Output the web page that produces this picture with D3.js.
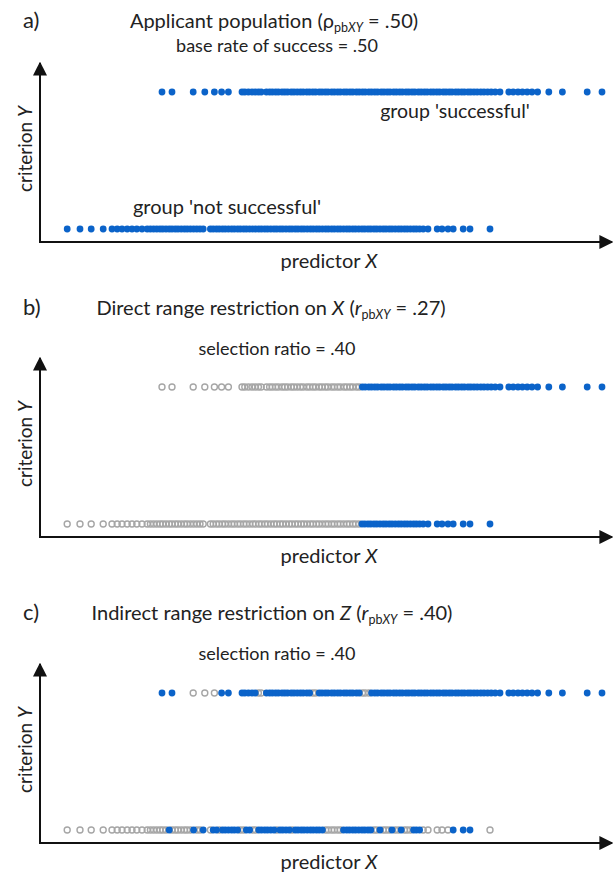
<!DOCTYPE html>
<html>
<head>
<meta charset="utf-8">
<script src="https://cdn.jsdelivr.net/npm/d3@7"></script>
<style>
  body { margin: 0; background: #fff; }
  text { font-family: Lato, "Open Sans", sans-serif; fill: #222; }
</style>
</head>
<body>
<div id="chart"></div>
<script>
// predictor scores of the applicants (group 'successful' / 'not successful')
const successX = [30.5, 33, 38.3, 41.2, 43.6, 45.4, 47.1, 50.5, 51.2, 52.1, 53, 53.8, 54.6, 55.3,
  56.6, 57.4, 58.1, 58.9, 59.6, 60.5, 61.2, 61.9, 62.8, 63.5, 64.3, 65.1, 65.8, 66.7, 67.4, 68.2,
  68.9, 69.8, 70.5, 71.3, 72, 72.9, 73.6, 74.4, 75.1, 76, 76.7, 77.5, 78.2, 79.1, 79.8, 80.6,
  81.3, 82.2, 82.9, 83.7, 84.4, 85.3, 86, 86.8, 87.5, 88.4, 89.1, 89.9, 90.6, 91.5, 92.2, 93,
  93.7, 94.6, 95.3, 96.1, 96.8, 97.7, 98.4, 99.2, 99.9, 100.8, 101.5, 102.3, 103, 103.9, 104.6,
  105.4, 106.1, 107, 107.7, 108.5, 109.3, 110.2, 111, 111.9, 112.8, 113.8, 115,
  117.2, 118.3, 119.5, 120.6, 121.8, 123, 124.4, 127.2, 130.6, 136.8, 140.5]

const failX = [6.8, 10, 12.8, 15.8, 18, 19.3, 20.5, 21.8, 23, 24.2, 25.5, 26.8, 27.6, 28.4, 29.2,
  30, 30.7, 31.5, 32.3, 33, 33.8, 34.5, 35.3, 36.1, 36.8, 37.6, 38.4, 39.2, 40, 40.8,
  42.6, 43.3, 44.1, 44.8, 45.6, 46.3, 47.1, 47.9, 48.6, 49.4, 50.1, 50.9, 51.6, 52.4, 53.2, 53.9,
  54.7, 55.4, 56.2, 56.9, 57.7, 58.5, 59.2, 60, 60.7, 61.5, 62.3, 63, 63.8, 64.5, 65.3, 66, 66.8,
  67.6, 68.3, 69.1, 69.8, 70.6, 71.4, 72.1, 72.9, 73.6, 74.4, 75.1, 75.9, 76.7, 77.4, 78.2, 78.9,
  79.7, 80.5, 81.2, 82, 82.7, 83.5, 84.2, 85, 85.8, 86.5, 87.3, 88, 88.8, 89.6, 90.3, 91.1, 91.8,
  92.6, 93.4, 94.1, 94.9, 95.8, 97, 99.3, 100.5, 102, 103.3, 105.8, 107.5, 112.5]

// direct selection on X: everyone above the cutoff
const cutoffX = 80.5

// indirect selection on Z: predictor ranges of the selected applicants
const zSelectedSuccess = [[30, 34], [45, 48], [50, 54], [56, 67.5], [69.5, 80.5], [82.5, 143]]
const zSelectedFail = [[32, 32.5], [37.8, 38.5], [40.5, 41], [43, 44.5], [45.5, 49.5], [51.5, 52.5],
  [54, 58.5], [59.8, 62.5], [63.5, 70.7], [75.5, 83.3], [84.8, 85.2], [87.8, 88.2], [90.2, 90.5],
  [93, 95], [103, 104], [105, 108]]

const panelLetters = ["a)", "b)", "c)"]
const panelTitles = [
  [{ t: "Applicant population (ρ" }, { t: "pb", sub: true }, { t: "XY", sub: true, it: true }, { t: " = .50)" }],
  [{ t: "Direct range restriction on " }, { t: "X", it: true }, { t: " (" }, { t: "r", it: true },
   { t: "pb", sub: true }, { t: "XY", sub: true, it: true }, { t: " = .27)" }],
  [{ t: "Indirect range restriction on " }, { t: "Z", it: true }, { t: " (" }, { t: "r", it: true },
   { t: "pb", sub: true }, { t: "XY", sub: true, it: true }, { t: " = .40)" }]
]
const panelSubtitles = ["base rate of success = .50", "selection ratio = .40", "selection ratio = .40"]

const inRanges = (ranges) => (v) => ranges.some(r => v >= r[0] && v <= r[1])
const panelRules = [
  { success: () => true, fail: () => true },
  { success: v => v >= cutoffX, fail: v => v >= cutoffX },
  { success: inRanges(zSelectedSuccess), fail: inRanges(zSelectedFail) }
]

const width = 616
const height = 880
const blue = "#0b63c9"
const grey = "#a6a6a6"

const svg = d3.select("#chart").append("svg")
  .attr("width", width)
  .attr("height", height)

svg.append("defs").append("marker")
  .attr("id", "arrow")
  .attr("viewBox", "0 0 10 10")
  .attr("refX", 9).attr("refY", 5)
  .attr("markerWidth", 7).attr("markerHeight", 7)
  .attr("markerUnits", "strokeWidth")
  .attr("orient", "auto")
  .append("path").attr("d", "M0,0L10,5L0,10Z").attr("fill", "#111")

const xScale = d3.scaleLinear().domain([0, 143]).range([40, 612])

// panel offsets (each panel was a separate picture), title / subtitle baselines
const panelTops = [0, 295, 601]
const titleY = [28, 315, 620]
const subtitleY = [52, 355, 660]
const titleX = [274, 271, 272]

panelTops.forEach((top, i) => {
  const g = svg.append("g").attr("transform", `translate(0, ${top})`)
  const yScale = d3.scalePoint().domain(["not successful", "successful"]).range([229, 92])
  const axisY = 242

  g.append("text")
    .attr("x", 23).attr("y", titleY[i] - top)
    .style("font-size", "22px")
    .text(panelLetters[i])

  const title = g.append("text")
    .attr("x", titleX[i]).attr("y", titleY[i] - top)
    .attr("text-anchor", "middle")
    .style("font-size", "20px")
  panelTitles[i].forEach((p, j) => {
    const prev = panelTitles[i][j - 1]
    const span = title.append("tspan").text(p.t)
    if (p.sub) span.style("font-size", "12.5px")
    if (p.it) span.style("font-style", "italic")
    if (p.sub && !(prev && prev.sub)) span.attr("dy", 3.5)
    if (!p.sub && prev && prev.sub) span.attr("dy", -3.5)
  })

  g.append("text")
    .attr("x", 277).attr("y", subtitleY[i] - top)
    .attr("text-anchor", "middle")
    .style("font-size", "18px")
    .text(panelSubtitles[i])

  // axes with arrows
  g.append("line")
    .attr("x1", 40).attr("x2", 40)
    .attr("y1", axisY + 1).attr("y2", 63)
    .attr("stroke", "#111").attr("stroke-width", 2)
    .attr("marker-end", "url(#arrow)")
  g.append("line")
    .attr("x1", 39).attr("x2", 612)
    .attr("y1", axisY).attr("y2", axisY)
    .attr("stroke", "#111").attr("stroke-width", 2)
    .attr("marker-end", "url(#arrow)")

  g.append("text")
    .attr("x", 329).attr("y", axisY + 26)
    .attr("text-anchor", "middle")
    .style("font-size", "20px")
    .html('predictor <tspan font-style="italic">X</tspan>')

  g.append("text")
    .attr("transform", `translate(32, 149) rotate(-90)`)
    .attr("text-anchor", "middle")
    .style("font-size", "19px")
    .html('criterion <tspan font-style="italic">Y</tspan>')

  const rows = [
    { key: "successful", values: successX, rule: panelRules[i].success },
    { key: "not successful", values: failX, rule: panelRules[i].fail }
  ]

  rows.forEach(row => {
    const cy = yScale(row.key)
    const pts = row.values.map(v => ({ x: v, sel: row.rule(v) }))
    g.append("g").selectAll("circle")
      .data(pts.filter(d => !d.sel))
      .join("circle")
        .attr("cx", d => xScale(d.x))
        .attr("cy", cy)
        .attr("r", 3)
        .attr("fill", "none")
        .attr("stroke", grey)
        .attr("stroke-width", 1.4)
    g.append("g").selectAll("circle")
      .data(pts.filter(d => d.sel))
      .join("circle")
        .attr("cx", d => xScale(d.x))
        .attr("cy", cy)
        .attr("r", 3.4)
        .attr("fill", blue)
  })

  if (i === 0) {
    g.append("text")
      .attr("x", 455).attr("y", 118)
      .attr("text-anchor", "middle")
      .style("font-size", "19.5px")
      .text("group 'successful'")
    g.append("text")
      .attr("x", 227).attr("y", 214)
      .attr("text-anchor", "middle")
      .style("font-size", "20px")
      .text("group 'not successful'")
  }
})
</script>
</body>
</html>
